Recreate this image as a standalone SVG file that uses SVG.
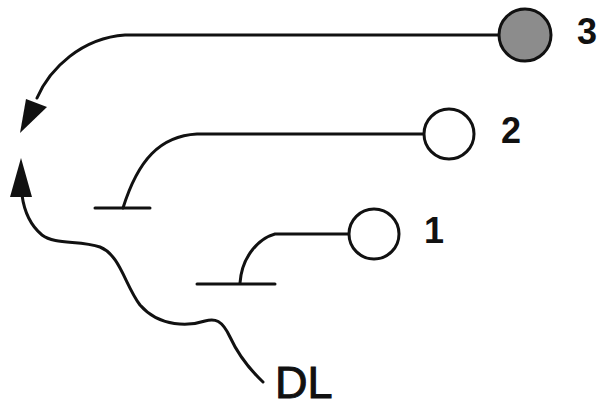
<svg xmlns="http://www.w3.org/2000/svg" width="597" height="409" viewBox="0 0 597 409">
<style>
.ln{fill:none;stroke:#111;stroke-width:3;stroke-linecap:round;stroke-linejoin:round}
.nd{stroke:#111;stroke-width:3}
.lb{font-family:"Liberation Sans",Arial,sans-serif;font-weight:bold;font-size:36px;fill:#111;text-anchor:middle}
.dl{font-family:"Liberation Sans",Arial,sans-serif;font-size:45px;fill:#111;stroke:#111;stroke-width:1}
</style>
<rect width="597" height="409" fill="#fff"/>
<g id="connectors">
<path class="ln" d="M499,35 L125,35 C82,38 50,68 37,98"/>
<polygon points="20,133 26,99 47,107" fill="#111"/>
<path class="ln" d="M423,134 L197,134 C160,136 138,160 123,208"/>
<path class="ln" d="M95,208 L150,208"/>
<path class="ln" d="M349,234 L275,234 C260,238 242,255 240,283"/>
<path class="ln" d="M197,284 L275,284"/>
<path class="ln" d="M263,382 C245,365 236,350 230,337 C222,320 215,318 205,321 C190,326 160,328 140,305 C125,285 120,255 100,247 C80,240 55,245 42,235 C30,225 24,210 22,195"/>
<polygon points="21,158 10,197 32,197" fill="#111"/>
</g>
<g id="node3">
<circle class="nd" cx="525" cy="35" r="26" fill="#8c8c8c"/>
<text class="lb" x="587" y="44">3</text>
</g>
<g id="node2">
<circle class="nd" cx="449" cy="134" r="25" fill="#fff"/>
<text class="lb" x="511" y="143">2</text>
</g>
<g id="node1">
<circle class="nd" cx="374" cy="234" r="25" fill="#fff"/>
<text class="lb" x="434" y="243">1</text>
</g>
<g id="dl">
<text class="dl" x="275" y="398">DL</text>
</g>
</svg>
